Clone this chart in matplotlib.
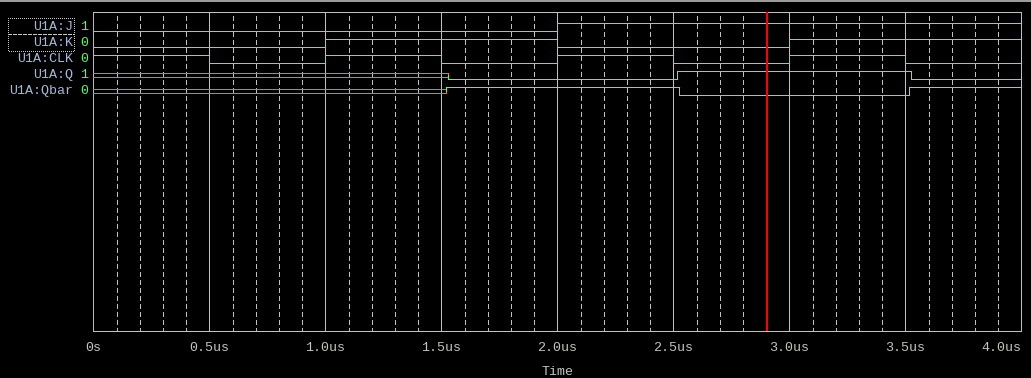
import matplotlib.pyplot as plt
from matplotlib import transforms
from matplotlib.lines import Line2D
from matplotlib.patches import Rectangle
import numpy as np

W, H = 1031, 378

# probe names and the value shown at the cursor
signal_names = ["U1A:J", "U1A:K", "U1A:CLK", "U1A:Q", "U1A:Qbar"]
cursor_values = ["1", "0", "0", "1", "0"]
cursor_time = 2.906

# transition times (us) and the state entered at each one, "X" = unknown
j_times = [0.0, 2.0]
j_states = [0, 1]
k_times = [0.0, 1.0, 2.0, 3.0]
k_states = [0, 1, 0, 1]
clk_times = [0.0, 0.5, 1.0, 1.5, 2.0, 2.5, 3.0, 3.5, 4.0]
clk_states = [1, 0, 1, 0, 1, 0, 1, 0, 1]
q_times = [0.0, 1.527, 2.517, 3.526]
q_states = ["X", 0, 1, 0]
qbar_times = [0.0, 1.519, 2.526, 3.517]
qbar_states = ["X", 1, 0, 1]

tick_times = [0.0, 0.5, 1.0, 1.5, 2.0, 2.5, 3.0, 3.5, 4.0]
tick_labels = ["0s", "0.5us", "1.0us", "1.5us", "2.0us", "2.5us", "3.0us", "3.5us", "4.0us"]

waves = [(j_times, j_states), (k_times, k_states), (clk_times, clk_states),
         (q_times, q_states), (qbar_times, qbar_states)]

GREEN = "#5cf85c"
RED_X = "#ff6464"
GRID = "#c0c0c0"
FONT = "Liberation Mono"
LW = 0.72  # one pixel at 100 dpi

fig = plt.figure(figsize=(W / 100, H / 100), dpi=100, facecolor="black")
# y in data units == pixel row from the top of the image
x0, x1, y_top, y_bot = 93.3, 1021.3, 11.7, 331.3
ax = fig.add_axes([x0 / W, (H - y_bot) / H, (x1 - x0) / W, (y_bot - y_top) / H])
ax.set_facecolor("black")
ax.set_xlim(0, 4.0)
ax.set_ylim(y_bot, y_top)

# grid: solid every 0.5us, dashed every 0.1us
for t in np.arange(0.1, 4.0, 0.1):
    if abs(t / 0.5 - round(t / 0.5)) < 1e-6:
        ax.vlines(t, y_top, y_bot, color=GRID, lw=LW, antialiased=False, zorder=1)
    else:
        ax.vlines(t, 16, y_bot, color=GRID, lw=LW, linestyles=(0, (5, 4)),
                  antialiased=False, zorder=1)

for sp in ["top", "right", "bottom"]:
    ax.spines[sp].set_color(GRID)
    ax.spines[sp].set_linewidth(LW)
ax.spines["left"].set_color("#c8c850")
ax.spines["left"].set_linewidth(LW)

ax.set_yticks([])
ax.set_xticks(tick_times, tick_labels)
ax.tick_params(axis="x", length=0, pad=8, colors="#c4c4b8", labelsize=9.6)
for lab in ax.get_xticklabels():
    lab.set_fontfamily(FONT)
ax.get_xticklabels()[-1].set_horizontalalignment("right")
ax.set_xlabel("Time", color="#c4c4c4", fontsize=9.6, fontfamily=FONT, labelpad=8)


def draw_wave(times, states, c):
    def level(s):
        return c - 4 if s == 1 else c + 4
    prev = None
    for i, (t, s) in enumerate(zip(times, states)):
        t_end = times[i + 1] if i + 1 < len(times) else 4.0
        if s == "X":
            ax.plot([t, t_end], [c - 2, c - 2], color=RED_X, lw=LW, antialiased=False, zorder=3)
            ax.plot([t, t_end], [c + 2, c + 2], color=RED_X, lw=LW, antialiased=False, zorder=3)
            ax.plot([t_end, t_end], [c - 2, c + 2], color=RED_X, lw=LW, antialiased=False, zorder=3)
        else:
            if prev is not None:
                y_from = c if prev == "X" else level(prev)
                ax.plot([t, t], [y_from, level(s)], color=GREEN, lw=LW, antialiased=False, zorder=3)
            ax.plot([t, t_end], [level(s), level(s)], color=GREEN, lw=LW, antialiased=False, zorder=3)
        prev = s


row_centers = [27.3 + 16 * i for i in range(len(signal_names))]
lab_tr = transforms.blended_transform_factory(fig.transFigure, ax.transData)
for name, val, (tt, ss), c in zip(signal_names, cursor_values, waves, row_centers):
    draw_wave(tt, ss, c)
    ax.text(73.5 / W, c, name, transform=lab_tr, ha="right", va="center",
            color="#a4b8d4", fontsize=9.6, fontfamily=FONT, clip_on=False)
    ax.text(80.5 / W, c, val, transform=lab_tr, ha="left", va="center",
            color=GREEN, fontsize=9.6, fontfamily=FONT, clip_on=False)

# cursor
ax.vlines(cursor_time, y_top, y_bot, color="#ff0000", lw=LW * 1.5, antialiased=False, zorder=5)

# pixel-based helpers for decorations outside the axes
px = transforms.Affine2D().scale(1 / W, -1 / H).translate(0, 1) + fig.transFigure
fig.add_artist(Line2D([0, W], [0.8, 0.8], transform=px, color="#a0a0a0", lw=1.4))
fig.add_artist(Rectangle((8, 18), 65.5, 32.5, transform=px, fill=False,
                         edgecolor="#c8c8c8", lw=LW, linestyle=(0, (1, 2)),
                         antialiased=False))
fig.add_artist(Line2D([8, 73.5], [34, 34], transform=px, color="#c8c8c8",
                      lw=LW, linestyle=(0, (3, 2)), antialiased=False))

fig.savefig("out.png", dpi=100, facecolor="black")
